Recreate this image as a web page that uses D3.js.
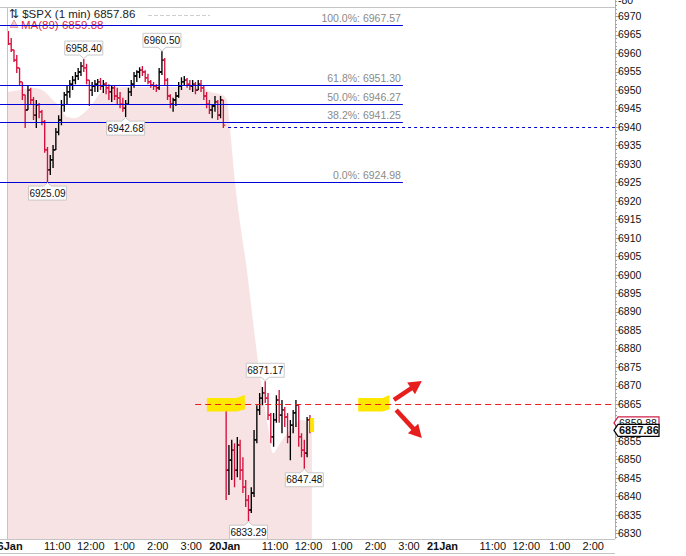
<!DOCTYPE html>
<html>
<head>
<meta charset="utf-8">
<script src="https://cdn.jsdelivr.net/npm/d3@7"></script>
<style>
  body { margin: 0; background: #fff; }
  svg { display: block; font-family: "Liberation Sans", Arial, sans-serif; }
</style>
</head>
<body>
<svg id="chart" width="686" height="556"></svg>
<script>
// ---- data (5 minute bars) ----
const days = ["16Jan", "20Jan", "21Jan"];
const hourLabels = ["11:00", "12:00", "1:00", "2:00", "3:00"];
const hourOffsets = [90, 150, 210, 270, 330];   // minutes after 9:30
const yTicks = d3.range(6830, 6971, 5);

// 16 Jan
const d1Open = [6965.7,6962.5,6960.9,6958.1,6956.0,6952.2,6948.7,6944.6,6950.0,6947.3,
  6943.2,6946.0,6944.1,6941.4,6933.8,6928.4,6931.1,6933.8,6938.6,6941.9,
  6946.0,6948.7,6949.5,6951.6,6952.7,6953.8,6954.9,6956.5,6956.0,6952.7,
  6950.0,6951.1,6951.6,6952.2,6951.1,6951.6,6950.6,6949.5,6950.6,6948.4,
  6947.9,6946.2,6945.1,6946.2,6949.5,6951.6,6953.8,6954.9,6955.4,6954.9,
  6953.3,6952.2,6951.4,6951.1,6950.6,6954.9,6958.1,6952.7,6948.4,6946.2,
  6947.3,6948.4,6951.1,6952.2,6952.7,6951.6,6951.1,6951.6,6950.0,6951.6,
  6950.6,6948.4,6946.2,6944.6,6945.7,6946.8,6943.2,6947.3];
const d1High = [6966.0,6964.1,6960.9,6959.5,6956.0,6952.2,6948.7,6951.4,6950.6,6948.1,
  6947.3,6946.5,6944.6,6941.9,6934.6,6932.4,6935.1,6939.7,6943.2,6947.3,
  6949.5,6951.1,6952.7,6953.8,6954.9,6956.0,6957.6,6958.40,6957.1,6952.7,
  6952.2,6952.7,6953.0,6953.3,6952.7,6952.2,6951.6,6951.1,6951.1,6950.6,
  6949.5,6947.9,6947.3,6950.6,6952.7,6954.9,6955.4,6956.2,6956.5,6955.4,
  6954.4,6952.7,6952.2,6951.6,6956.0,6960.50,6958.7,6953.3,6948.9,6947.9,
  6949.5,6952.2,6953.5,6953.8,6953.3,6952.7,6952.7,6952.2,6952.7,6952.7,
  6951.1,6949.5,6947.3,6946.2,6948.4,6947.3,6948.4,6947.3];
const d1Low = [6962.2,6960.3,6957.6,6954.6,6951.4,6947.3,6939.7,6944.6,6946.0,6941.9,
  6939.7,6942.4,6940.5,6933.0,6925.09,6927.0,6928.9,6933.8,6937.8,6940.5,
  6944.1,6946.2,6947.9,6950.0,6951.6,6952.7,6953.8,6954.9,6951.6,6945.7,
  6948.4,6949.5,6949.5,6950.0,6949.2,6948.9,6947.3,6946.8,6947.3,6946.2,
  6945.1,6944.1,6942.68,6946.2,6948.4,6950.6,6952.2,6953.3,6953.8,6952.2,
  6951.6,6950.6,6950.0,6949.5,6950.0,6954.1,6951.4,6947.3,6945.1,6944.1,
  6945.7,6947.9,6950.0,6951.1,6950.6,6950.0,6949.5,6948.9,6950.0,6949.5,
  6947.3,6945.1,6943.5,6942.4,6944.1,6941.9,6942.4,6939.7];
const d1Close = [6962.5,6960.9,6958.1,6956.0,6952.2,6948.7,6944.6,6950.0,6947.3,6943.2,
  6946.0,6944.1,6941.4,6933.8,6928.4,6931.1,6933.8,6938.6,6941.9,6946.0,
  6948.7,6949.5,6951.6,6952.7,6953.8,6954.9,6956.5,6956.0,6952.7,6950.0,
  6951.1,6951.6,6952.2,6951.1,6951.6,6950.6,6949.5,6950.6,6948.4,6947.9,
  6946.2,6945.1,6946.2,6949.5,6951.6,6953.8,6954.9,6955.4,6954.9,6953.3,
  6952.2,6951.4,6951.1,6950.6,6954.9,6958.1,6952.7,6948.4,6946.2,6947.3,
  6948.4,6951.1,6952.2,6952.7,6951.6,6951.1,6951.6,6950.0,6951.6,6950.6,
  6948.4,6946.2,6944.6,6945.7,6946.8,6943.2,6947.3,6940.5];

// 20 Jan
const d2Open = [6865.3,6847.1,6849.8,6852.5,6847.1,6853.9,6847.1,6842.5,6839.0,6836.3,
  6840.9,6855.3,6863.4,6866.6,6868.0,6866.6,6862.0,6856.1,6860.7,6866.1,
  6862.0,6863.4,6861.5,6856.1,6859.3,6862.6,6864.7,6856.1,6852.5,6851.7,6860.7];
const d2High = [6865.3,6853.9,6855.3,6854.4,6856.1,6855.3,6850.6,6844.4,6840.4,6842.5,
  6858.0,6864.7,6868.0,6869.6,6871.17,6868.0,6862.6,6862.6,6867.4,6868.8,
  6866.1,6864.2,6862.6,6860.7,6863.4,6866.1,6864.7,6857.1,6855.3,6861.5,6862.0];
const d2Low = [6839.0,6840.4,6844.4,6842.5,6845.2,6844.4,6840.9,6837.1,6833.29,6835.5,
  6839.8,6854.4,6862.0,6864.7,6865.3,6860.7,6854.4,6853.4,6859.9,6859.9,
  6857.1,6858.8,6854.4,6849.8,6857.1,6858.8,6853.4,6850.6,6847.48,6850.6,6857.1];
const d2Close = [6847.1,6849.8,6852.5,6847.1,6853.9,6847.1,6842.5,6839.0,6836.3,6840.9,
  6855.3,6863.4,6866.6,6868.0,6866.6,6862.0,6856.1,6860.7,6866.1,6862.0,
  6863.4,6861.5,6856.1,6859.3,6862.6,6864.7,6856.1,6852.5,6851.7,6860.7,6857.86];

// MA(89) outline, minutes from 16Jan 9:30 (trading time)
const maTime  = [0,23,47,68,82,95,107,122,140,154,167,184,211,256,301,346,364,385,394,398,408,429,451,467,476,489,502,513,525,546];
const maValue = [6949.5,6950.0,6950.6,6949.5,6947.3,6945.4,6942.7,6942.4,6944.1,6946.5,6949.2,6950.6,6950.8,6950.8,6950.8,
  6950.6,6949.5,6948.7,6947.3,6941.9,6925.6,6902.0,6875.0,6859.3,6851.7,6854.4,6857.1,6858.8,6860.7,6859.88];

// Fibonacci retracement
const fibPct = ["100.0%", "61.8%", "50.0%", "38.2%", "0.0%"];
const fibVal = [6967.57, 6951.30, 6946.27, 6941.25, 6924.98];

// callouts: day, bar index, side
const calloutDay  = [0, 0, 0, 0, 1, 1, 1];
const calloutBar  = [27, 55, 42, 14, 14, 8, 28];
const calloutSide = ["H", "H", "L", "L", "H", "L", "L"];

// hand drawn marks (trading minutes / price)
const hlStart = [358, 629, 543];
const hlEnd   = [426, 685, 550];
const hlTop   = [6866.6, 6866.6, 6861.2];
const hlBot   = [6863.0, 6863.0, 6857.4];
const arrowFromT = [693, 697], arrowFromP = [6866.1, 6863.4];
const arrowToT   = [743, 743], arrowToP   = [6871.2, 6855.8];

const lastPrice = 6857.86;
const maLast = maValue[maValue.length - 1];

// ---- layout ----
const svg = d3.select("#chart");
const plotL = 7, plotR = 615, plotT = 7, plotB = 539;
const pxPerMin = 33.5 / 60;
const x = d3.scaleLinear().domain([0, 1170]).range([plotL, plotL + 1170 * pxPerMin]);
const y = d3.scaleLinear().domain([6830, 6970]).range([533.3, 16.2]);
const fmt = d3.format(".2f");
const RED = "#d4103c";

svg.append("defs").append("clipPath").attr("id", "plot")
  .append("rect").attr("x", plotL).attr("y", plotT).attr("width", plotR - plotL).attr("height", plotB - plotT);

const bars = [];
d1Open.forEach((o, i) => bars.push({ t: i * 5 + 2.5, o, h: d1High[i], l: d1Low[i], c: d1Close[i] }));
d2Open.forEach((o, i) => bars.push({ t: 390 + i * 5 + 2.5, o, h: d2High[i], l: d2Low[i], c: d2Close[i] }));
const dayBars = [bars.slice(0, d1Open.length), bars.slice(d1Open.length)];

const g = svg.append("g").attr("clip-path", "url(#plot)");

// MA(89) area
const ma = maTime.map((t, i) => ({ t, v: maValue[i] }));
g.append("path").datum(ma)
  .attr("fill", "#f7e3e3")
  .attr("d", d3.area().x(d => x(d.t)).y0(plotB).y1(d => y(d.v)).curve(d3.curveMonotoneX));

// frame lines
svg.append("line").attr("x1", 0).attr("x2", plotR).attr("y1", plotT + 0.5).attr("y2", plotT + 0.5).attr("stroke", "#c4c4c4");
svg.append("line").attr("x1", plotL + 0.5).attr("x2", plotL + 0.5).attr("y1", plotT).attr("y2", plotB).attr("stroke", "#c4c4c4");
svg.append("line").attr("x1", 0).attr("x2", plotR).attr("y1", plotB + 0.5).attr("y2", plotB + 0.5).attr("stroke", "#c4c4c4");
svg.append("line").attr("x1", 0).attr("x2", plotR).attr("y1", 553.5).attr("y2", 553.5).attr("stroke", "#c4c4c4");

// title + legend
svg.append("text").attr("x", 9).attr("y", 18).attr("font-size", 11.5).attr("fill", "#222")
  .text("\u21C5 $SPX (1 min) " + fmt(lastPrice));
svg.append("line").attr("x1", 148).attr("x2", 210).attr("y1", 15.5).attr("y2", 15.5)
  .attr("stroke", "#cfcfcf").attr("stroke-dasharray", "4,2");
svg.append("path").attr("d", "M10,27.5L14,20L18,27.5Z").attr("fill", "#f4c4cc").attr("stroke", "#e6a0ac");
svg.append("text").attr("x", 21).attr("y", 28.5).attr("font-size", 11.5).attr("fill", "#d8284e")
  .text("MA(89) " + fmt(maLast));

// yellow highlights (behind)
hlStart.forEach((t0, i) => {
  const x0 = x(t0), x1 = x(hlEnd[i]), yt = y(hlTop[i]), yb = y(hlBot[i]);
  const xm = x0 + (x1 - x0) * 0.78;
  const raise = (x1 - x0) > 10 ? 3 : 0;
  svg.append("path")
    .attr("d", `M${x0},${yt}L${xm},${yt}L${x1},${yt - raise}L${x1},${yb - raise + 1}L${xm},${yb}L${x0},${yb}Z`)
    .attr("fill", "#ffe800");
});

// fib lines
const fibX0 = 0, fibX1 = x(709);
fibVal.forEach((v, i) => {
  svg.append("line").attr("x1", fibX0).attr("x2", fibX1)
    .attr("y1", Math.round(y(v)) + 0.5).attr("y2", Math.round(y(v)) + 0.5)
    .attr("stroke", "#0000d8").attr("stroke-width", 1.2);
  svg.append("text").attr("x", fibX1 - 2).attr("y", Math.round(y(v)) - 3)
    .attr("text-anchor", "end").attr("font-size", 10.5).attr("fill", "#8a8a8a")
    .text(fibPct[i] + ": " + fmt(v));
});

// dashed level lines
svg.append("line").attr("x1", x(396)).attr("x2", plotR)
  .attr("y1", Math.round(y(6940)) + 0.5).attr("y2", Math.round(y(6940)) + 0.5)
  .attr("stroke", "#0000d0").attr("stroke-dasharray", "3,3");
svg.append("line").attr("x1", x(337)).attr("x2", plotR)
  .attr("y1", Math.round(y(6865)) + 0.5).attr("y2", Math.round(y(6865)) + 0.5)
  .attr("stroke", "#ee1c1c").attr("stroke-width", 1.2).attr("stroke-dasharray", "6,4");

// OHLC bars
const bg = g.append("g");
bg.selectAll("path.bar").data(bars).enter().append("path")
  .attr("class", "bar")
  .attr("fill", "none")
  .attr("stroke", d => d.c >= d.o ? "#000" : RED)
  .attr("stroke-width", 1.35)
  .attr("d", d => {
    const cx = x(d.t);
    return `M${cx},${y(d.h)}V${y(d.l)}M${cx - 2},${y(d.o)}H${cx}M${cx},${y(d.c)}H${cx + 2}`;
  });

// callouts at highs/lows
calloutBar.forEach((bi, k) => {
  const b = dayBars[calloutDay[k]][bi];
  const isHigh = calloutSide[k] === "H";
  const v = isHigh ? b.h : b.l;
  const cx = x(b.t), py = y(v);
  const w = 38, h = 14;
  const bx0 = cx - w / 2, bx1 = cx + w / 2;
  let path, ty;
  if (isHigh) {
    const yb = py - 4, yt = yb - h;
    path = `M${bx0},${yt}H${bx1}V${yb}H${cx + 4}L${cx},${py - 0.5}L${cx - 4},${yb}H${bx0}Z`;
    ty = yb - 3.5;
  } else {
    const yt = py + 4, yb = yt + h;
    path = `M${bx0},${yt}H${cx - 4}L${cx},${py + 0.5}L${cx + 4},${yt}H${bx1}V${yb}H${bx0}Z`;
    ty = yb - 3.5;
  }
  svg.append("path").attr("d", path).attr("fill", "#fff").attr("stroke", "#c8c8c8");
  svg.append("text").attr("x", cx).attr("y", ty).attr("text-anchor", "middle")
    .attr("font-size", 10).attr("fill", "#111").text(fmt(v));
});

// red arrows
arrowFromT.forEach((t, i) => {
  const x0 = x(t), y0 = y(arrowFromP[i]), x1 = x(arrowToT[i]), y1 = y(arrowToP[i]);
  const dx = x1 - x0, dy = y1 - y0, len = Math.hypot(dx, dy);
  const ux = dx / len, uy = dy / len, hl = 13, hw = 7;
  const bxp = x1 - ux * hl, byp = y1 - uy * hl;
  svg.append("line").attr("x1", x0).attr("y1", y0).attr("x2", bxp + ux * 2).attr("y2", byp + uy * 2)
    .attr("stroke", "#e61e1e").attr("stroke-width", 4.5);
  svg.append("path")
    .attr("d", `M${x1},${y1}L${bxp - uy * hw},${byp + ux * hw}L${bxp + uy * hw},${byp - ux * hw}Z`)
    .attr("fill", "#e61e1e");
});

// right axis
svg.append("line").attr("x1", plotR + 0.5).attr("x2", plotR + 0.5).attr("y1", 0).attr("y2", plotB)
  .attr("stroke", "#b0b0b0");
const minor = d3.range(6827, 6976, 1).filter(v => y(v) >= 0 && y(v) <= plotB);
svg.append("g").attr("shape-rendering", "crispEdges").selectAll("line").data(minor).enter().append("line")
  .attr("x1", plotR).attr("x2", d => plotR + (d % 5 === 0 ? 4 : 2))
  .attr("y1", d => Math.round(y(d)) + 0.5).attr("y2", d => Math.round(y(d)) + 0.5)
  .attr("stroke", "#a0a0a0");
svg.append("g").selectAll("text").data(yTicks).enter().append("text")
  .attr("x", plotR + 3).attr("y", d => y(d)).attr("dy", "0.36em")
  .attr("font-size", 10.5).attr("fill", "#111").text(d => d);
svg.append("text").attr("x", plotR + 3).attr("y", 4).attr("font-size", 10.5).attr("fill", "#111").text("-80");

// price tags
function tag(v, stroke, bold) {
  const cy = y(v), h = 12, x0 = plotR - 1, x1 = 659;
  svg.append("path")
    .attr("d", `M${x0},${cy}L${x0 + 4},${cy - h / 2}H${x1}V${cy + h / 2}H${x0 + 4}Z`)
    .attr("fill", "#fff").attr("stroke", stroke).attr("stroke-width", 1.2);
  svg.append("text").attr("x", x0 + 5).attr("y", cy).attr("dy", "0.36em")
    .attr("font-size", bold ? 11 : 10.5).attr("font-weight", bold ? "bold" : "normal")
    .attr("fill", "#111").text(fmt(v));
}
tag(maLast, "#d0204a", false);
tag(lastPrice, "#000", true);

// bottom time axis
const xl = svg.append("g").attr("font-size", 11).attr("fill", "#111").attr("text-anchor", "middle");
days.forEach((d, i) => {
  const t0 = i * 390;
  xl.append("text").attr("x", x(t0)).attr("y", 550).attr("font-weight", "bold").text(d);
  hourOffsets.forEach((o, j) => {
    if (x(t0 + o) < plotR - 5) {
      xl.append("text").attr("x", x(t0 + o)).attr("y", 550).text(hourLabels[j]);
    }
  });
});
</script>
</body>
</html>
